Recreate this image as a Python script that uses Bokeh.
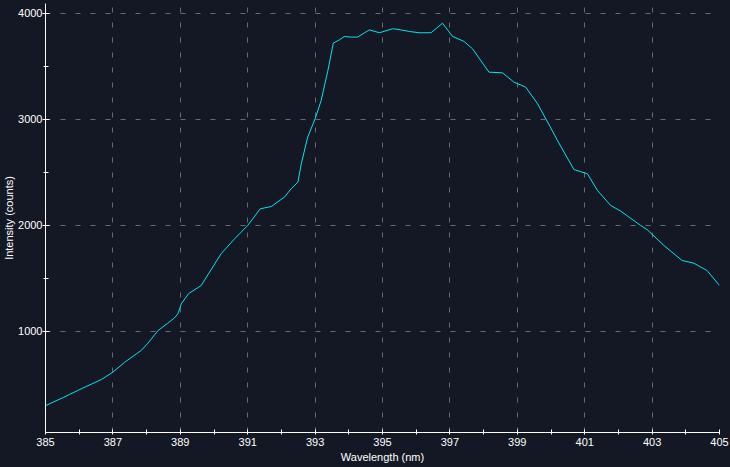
from bokeh.plotting import figure
from bokeh.models import Range1d, FixedTicker
from bokeh.embed import file_html
from bokeh.resources import INLINE

# ---- data ----
wavelength = [385.0, 385.5, 386.0, 386.66, 387.0, 387.35, 387.84, 388.04, 388.34, 388.63,
              388.83, 388.93, 389.03, 389.25, 389.62, 390.21, 390.61, 391.0, 391.37, 391.70,
              392.09, 392.29, 392.49, 392.59, 392.78, 393.0, 393.18, 393.38, 393.54, 393.72,
              393.87, 394.07, 394.26, 394.61, 394.91, 395.30, 395.55, 395.80, 396.09, 396.44,
              396.78, 397.08, 397.42, 397.67, 398.16, 398.56, 398.90, 399.25, 399.60, 399.97,
              400.19, 400.68, 401.08, 401.38, 401.77, 402.07, 402.66, 402.86, 403.35, 403.89,
              404.24, 404.63, 405.0]
intensity = [300, 373, 450, 547, 616, 710, 821, 890, 1009, 1078,
             1129, 1167, 1261, 1358, 1434, 1733, 1874, 2000, 2157, 2179,
             2267, 2346, 2409, 2582, 2833, 3006, 3179, 3462, 3720, 3751,
             3783, 3777, 3777, 3845, 3818, 3856, 3845, 3830, 3818, 3818,
             3908, 3783, 3736, 3667, 3446, 3440, 3352, 3305, 3148, 2934,
             2802, 2528, 2488, 2330, 2189, 2135, 2000, 1959, 1811, 1670,
             1644, 1575, 1434]

x_ticks = [385, 387, 389, 391, 393, 395, 397, 399, 401, 403, 405]
x_minor = [386, 388, 390, 392, 394, 396, 398, 400, 402, 404]
x_grid = [387, 389, 391, 393, 395, 397, 399, 401, 403]
y_ticks = [1000, 2000, 3000, 4000]
y_minor = [1500, 2500, 3500]

x_title = "Wavelength (nm)"
y_title = "Intensity (counts)"

BG = "#141824"
FG = "#ffffff"
GRID = "#676a72"
LINE = "#00e5ee"
FONT = "Liberation Sans"

p = figure(width=730, height=467, output_backend="svg", toolbar_location=None,
           x_range=Range1d(385, 405), y_range=Range1d(47, 4094),
           min_border_left=44, min_border_right=11, min_border_top=3, min_border_bottom=35,
           background_fill_color=BG, border_fill_color=BG, outline_line_color=None)

p.line(wavelength, intensity, line_color=LINE, line_width=1)

for ax in (p.xaxis[0], p.yaxis[0]):
    ax.axis_line_color = FG
    ax.axis_line_width = 1
    ax.major_tick_line_color = FG
    ax.minor_tick_line_color = FG
    ax.major_label_text_color = FG
    ax.major_label_text_font = FONT
    ax.major_label_text_font_size = "11px"
    ax.axis_label_text_color = FG
    ax.axis_label_text_font = FONT
    ax.axis_label_text_font_size = "11px"
    ax.axis_label_text_font_style = "normal"

p.xaxis.axis_label = x_title
p.yaxis.axis_label = y_title

p.xaxis.ticker = FixedTicker(ticks=x_ticks, minor_ticks=x_minor)
p.yaxis.ticker = FixedTicker(ticks=y_ticks, minor_ticks=y_minor)
p.xaxis.major_tick_in = 3
p.xaxis.major_tick_out = 2
p.xaxis.minor_tick_in = 3
p.xaxis.minor_tick_out = 2
p.xaxis.major_label_standoff = 3
p.xaxis.axis_label_standoff = 2
p.yaxis.major_tick_in = 4
p.yaxis.major_tick_out = 3
p.yaxis.minor_tick_in = 3
p.yaxis.minor_tick_out = 2
p.yaxis.major_label_standoff = 0
p.yaxis.axis_label_standoff = 0

p.xgrid.ticker = FixedTicker(ticks=x_grid)
p.ygrid.ticker = FixedTicker(ticks=y_ticks)
for g in (p.xgrid[0], p.ygrid[0]):
    g.grid_line_color = GRID
    g.grid_line_dash = "5 10"
    g.grid_line_width = 1

html = file_html(p, INLINE)
html = html.replace("</head>", "<style>html, body { background: %s; }</style></head>" % BG, 1)
open("out.html", "w").write(html)
